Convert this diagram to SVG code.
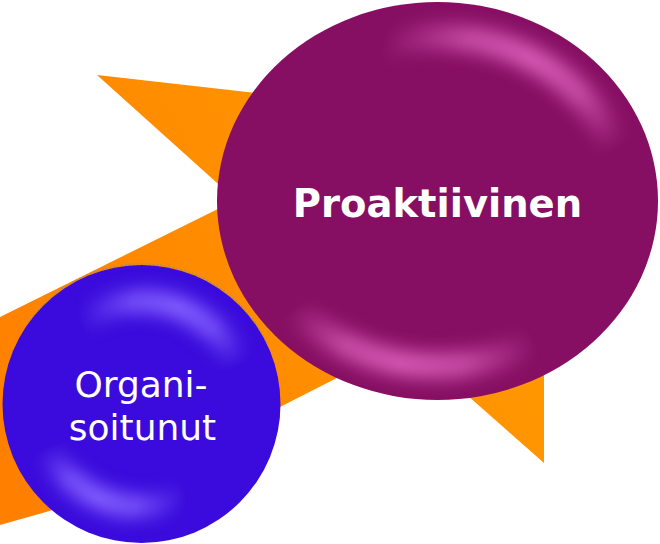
<svg xmlns="http://www.w3.org/2000/svg" width="660" height="544" viewBox="0 0 660 544">
  <style>
    .lbl { fill: #ffffff; text-anchor: middle; font-family: "DejaVu Sans", Verdana, sans-serif; }
    .bold { font-weight: bold; font-size: 38.5px; }
    .reg { font-size: 36px; }
  </style>
  <defs>
    <linearGradient id="gOrange" gradientUnits="userSpaceOnUse" x1="0" y1="450" x2="544" y2="150">
      <stop offset="0" stop-color="#ff7f00"/>
      <stop offset="1" stop-color="#ff9c00"/>
    </linearGradient>
    <filter id="blurH" x="-30%" y="-30%" width="160%" height="160%">
      <feGaussianBlur stdDeviation="9"/>
    </filter>
    <radialGradient id="spot">
      <stop offset="0" stop-color="#fff" stop-opacity="1"/>
      <stop offset="0.45" stop-color="#fff" stop-opacity="0.8"/>
      <stop offset="1" stop-color="#fff" stop-opacity="0"/>
    </radialGradient>
    <clipPath id="clipE">
      <ellipse cx="437.5" cy="201" rx="220.5" ry="199"/>
    </clipPath>
    <clipPath id="clipC">
      <circle cx="141.5" cy="404" r="139"/>
    </clipPath>
    <mask id="maskE" maskUnits="userSpaceOnUse" x="0" y="0" width="660" height="544">
      <ellipse cx="530" cy="60" rx="150" ry="110" fill="url(#spot)"/>
      <ellipse cx="400" cy="365" rx="140" ry="90" fill="url(#spot)"/>
    </mask>
    <mask id="maskC" maskUnits="userSpaceOnUse" x="0" y="0" width="660" height="544">
      <ellipse cx="180" cy="305" rx="105" ry="75" fill="url(#spot)"/>
      <ellipse cx="97" cy="500" rx="90" ry="65" fill="url(#spot)"/>
    </mask>
  </defs>

  <g id="background-star">
    <polygon fill="url(#gOrange)" points="97,75 300,98 440,250 544,340 544,463 450,380 380,356 280,407 200,447 120,490 46.7,511.7 0,525 0,317 236,200"/>
  </g>

  <g id="connectors"></g>

  <g id="node-proaktiivinen">
    <ellipse cx="437.5" cy="201" rx="220.5" ry="199" fill="#870f63"/>
    <g clip-path="url(#clipE)">
      <g mask="url(#maskE)">
        <ellipse cx="437.5" cy="201" rx="186" ry="165" fill="none" stroke="#d85cb6" stroke-width="26" filter="url(#blurH)"/>
      </g>
    </g>
    <text class="lbl bold" x="437.5" y="217">Proaktiivinen</text>
  </g>

  <g id="node-organisoitunut">
    <circle cx="141.5" cy="404" r="139" fill="#3a0bdc"/>
    <g clip-path="url(#clipC)">
      <g mask="url(#maskC)">
        <circle cx="141.5" cy="404" r="103" fill="none" stroke="#8562ff" stroke-width="24" filter="url(#blurH)"/>
      </g>
    </g>
    <path d="M 28 323 A 139 139 0 0 1 268 345" fill="none" stroke="#7f8c99" stroke-width="1.5" stroke-opacity="0.6" stroke-dasharray="2 2"/>
    <text class="lbl reg" x="141" y="397">Organi-</text>
    <text class="lbl reg" x="142.5" y="440">soitunut</text>
  </g>
</svg>
